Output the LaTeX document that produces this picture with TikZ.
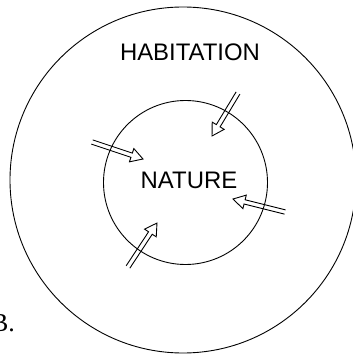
\documentclass[tikz,border=0pt]{standalone}
\usepackage{fontspec}
\setmainfont{Liberation Sans}
\newfontfamily\serifB{Liberation Serif}
\usetikzlibrary{calc}
\tikzset{
  ring/.style={draw=black, line width=0.9bp},
  label/.style={inner sep=0pt, font=\fontsize{24}{28}\selectfont},
  hollow/.style={draw=black, line width=0.9bp, line join=miter},
}
\newcommand{\hollowarrow}[2]{%
  \draw[hollow] let \p1=($(#2)-(#1)$), \n1={atan2(\y1,\x1)}, \n2={veclen(\x1,\y1)} in
    [shift={(#1)}, rotate=\n1]
    (0,2.2) -- (\n2-12,2.2) -- (\n2-12,7) -- (\n2,0) -- (\n2-12,-7) -- (\n2-12,-2.2) -- (0,-2.2);
}
\begin{document}
\begin{tikzpicture}[x=1bp,y=1bp]
\useasboundingbox (0,0) rectangle (353,356);
\node[ring, circle, minimum size=346bp, inner sep=0pt] (outer) at (183,176) {};
\node[ring, circle, minimum size=164bp, inner sep=0pt] (inner) at (185.5,173.5) {};
\node[label] (hab) at (190,304) {HABITATION};
\node[label] (nat) at (189,176) {NATURE};
\node[inner sep=0pt, anchor=base east, font=\serifB\fontsize{26}{30}\selectfont] (b) at (15,25) {B.};
\coordinate (t1) at (238,263); \coordinate (h1) at (212,220);
\coordinate (t2) at (92,214);  \coordinate (h2) at (143,197);
\coordinate (t3) at (285,144); \coordinate (h3) at (233,157);
\coordinate (t4) at (128,89);  \coordinate (h4) at (157,133);
\hollowarrow{t1}{h1}
\hollowarrow{t2}{h2}
\hollowarrow{t3}{h3}
\hollowarrow{t4}{h4}
\end{tikzpicture}
\end{document}
